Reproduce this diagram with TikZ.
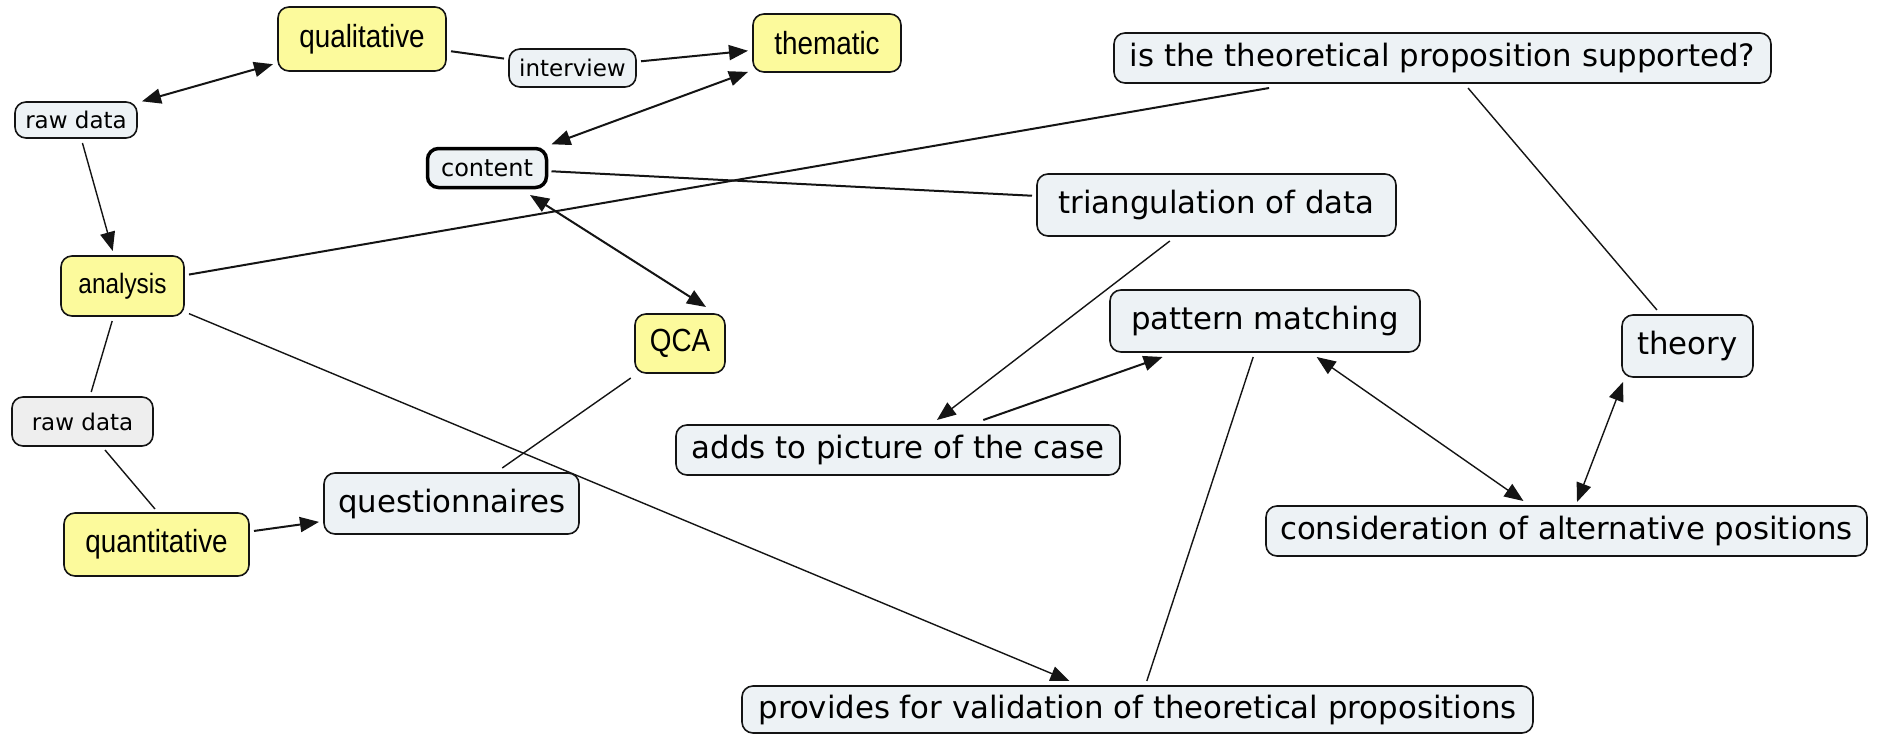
\documentclass[tikz,border=0pt]{standalone}
\usepackage{fontspec}
\usetikzlibrary{arrows.meta,calc}
\newfontfamily\vfont{DejaVu Sans}
\newfontfamily\afont{Liberation Sans}[FakeStretch=0.87]
\definecolor{cyellow}{HTML}{FCFA9C}
\definecolor{cblue}{HTML}{EDF2F5}
\definecolor{cgrey}{HTML}{EEEEEE}
\definecolor{cline}{HTML}{141414}

\tikzset{
  concept/.style={draw=cline, line width=1.6pt, rounded corners=11pt,
    inner sep=0pt, outer sep=5pt, align=center},
  yel/.style={concept, fill=cyellow, font=\afont\fontsize{32pt}{36pt}\selectfont},
  blu/.style={concept, fill=cblue, font=\vfont\fontsize{30.8pt}{36pt}\selectfont},
  smallblu/.style={concept, fill=cblue, font=\vfont\fontsize{23pt}{28pt}\selectfont},
  link/.style={draw=cline, line width=2pt},
  thin/.style={draw=cline, line width=1.4pt},
  tip/.style={-{Triangle[length=19pt,width=15pt]}},
  tips/.style={{Triangle[length=19pt,width=15pt]}-{Triangle[length=19pt,width=15pt]}},
}

\begin{document}
\begin{tikzpicture}[x=1pt,y=-1pt]
\useasboundingbox[fill=white] (0,0) rectangle (1877,734);

% concepts
\node[smallblu, minimum width=122pt, minimum height=36pt] (rawtop) at (76,120) {raw data};
\node[yel, minimum width=168pt, minimum height=64pt] (qual) at (362,39) {qualitative};
\node[smallblu, minimum width=127pt, minimum height=38pt] (interview) at (572.5,68) {interview};
\node[yel, minimum width=148pt, minimum height=58pt] (thematic) at (827,43) {thematic};
\node[smallblu, draw=black, line width=3.5pt, minimum width=119pt, minimum height=39pt,
      font=\vfont\fontsize{24pt}{28pt}\selectfont] (content) at (487,168) {content};
\node[blu, minimum width=657pt, minimum height=50pt] (question) at (1442.5,58) {is the theoretical proposition supported?};
\node[blu, minimum width=359pt, minimum height=62pt] (triang) at (1216.5,205) {triangulation of data};
\node[yel, font=\afont\fontsize{28pt}{32pt}\selectfont, minimum width=123pt, minimum height=60pt] (analysis) at (122.5,286) {analysis};
\node[yel, minimum width=90pt, minimum height=59pt] (qca) at (680,343.5) {QCA};
\node[blu, minimum width=310pt, minimum height=62pt] (pattern) at (1265,321) {pattern matching};
\node[blu, minimum width=131pt, minimum height=62pt] (theory) at (1687.5,346) {theory};
\node[smallblu, fill=cgrey, minimum width=141pt, minimum height=49pt] (rawbot) at (82.5,421.5) {raw data};
\node[blu, minimum width=444pt, minimum height=50pt] (adds) at (898,450) {adds to picture of the case};
\node[yel, minimum width=185pt, minimum height=63pt] (quant) at (156.5,544.5) {quantitative};
\node[blu, minimum width=255pt, minimum height=61pt] (quest) at (451.5,503.5) {questionnaires};
\node[blu, minimum width=601pt, minimum height=50pt] (cons) at (1566.5,531) {consideration of alternative positions};
\node[blu, minimum width=791pt, minimum height=47pt] (valid) at (1137.5,709.5) {provides for validation of theoretical propositions};

% links
\draw[link,tips] (rawtop) -- (qual);
\draw[link] (qual) -- (interview);
\draw[link,tip] (interview) -- (thematic);
\draw[link,tips] (content) -- (thematic);
\draw[thin,tip] (rawtop) -- (analysis);
\draw[link] (analysis) -- (question);
\draw[link] (content) -- (triang);
\draw[link,tips] ($(content)+(43,27)$) -- ($(qca)+(26,-36.5)$);
\draw[thin,tip] (analysis) -- (valid);
\draw[thin] (analysis) -- (rawbot);
\draw[thin] ($(rawbot)+(22.5,28.5)$) -- ($(quant)+(-1.5,-35.5)$);
\draw[link,tip] (quant) -- (quest);
\draw[thin] (quest) -- (qca);
\draw[thin,tip] (triang) -- (adds);
\draw[link,tip] (adds) -- (pattern);
\draw[thin] (pattern) -- (valid);
\draw[thin,tips] (pattern) -- (cons);
\draw[thin] (question) -- (theory);
\draw[thin,tips] ($(theory)+(-64.5,36)$) -- ($(cons)+(10.5,-29)$);
\end{tikzpicture}
\end{document}
